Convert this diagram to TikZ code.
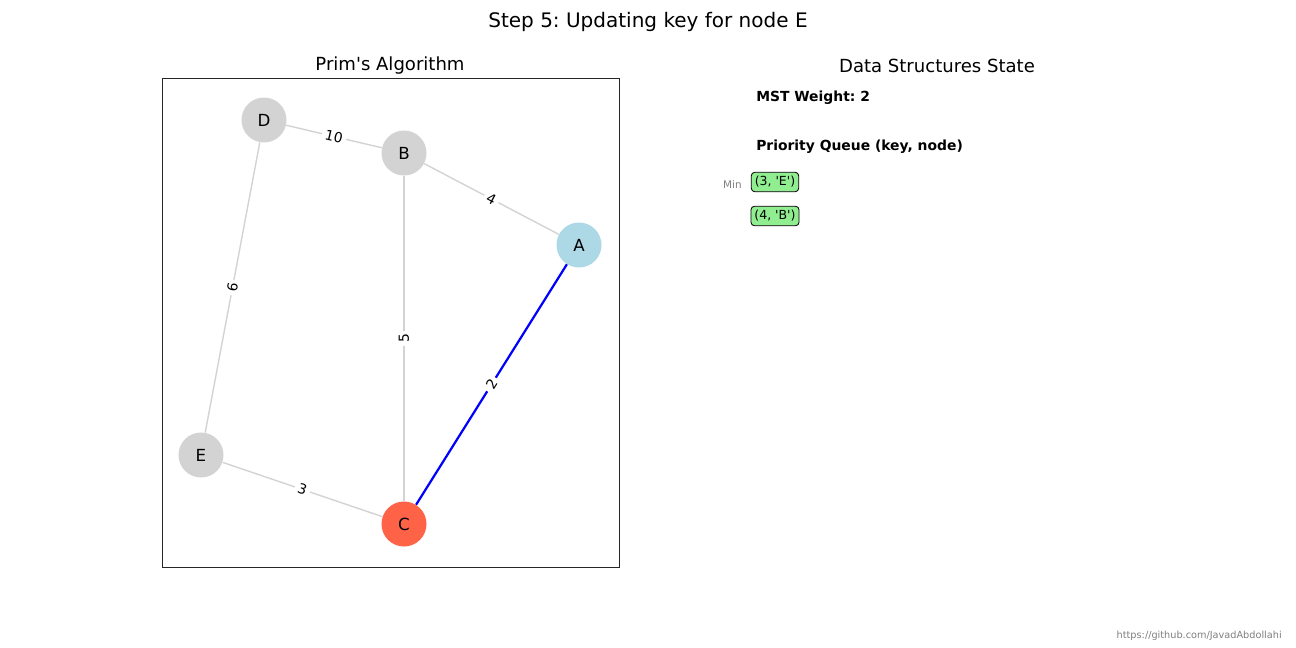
\documentclass[tikz,border=0pt]{standalone}
\usepackage{fontspec}
\setmainfont{DejaVu Sans}
\definecolor{lgray}{HTML}{D3D3D3}
\definecolor{lblue}{HTML}{ADD8E6}
\definecolor{tomato}{HTML}{FF6347}
\definecolor{lgreen}{HTML}{90EE90}
\newcommand{\sq}{\textquotesingle}
\begin{document}
\frenchspacing
\begin{tikzpicture}[x=0.72pt,y=-0.72pt,
  vert/.style={circle,minimum size=32.4pt,inner sep=0pt,font=\fontsize{12}{14}\selectfont},
  edge/.style={draw=lgray,line width=1pt},
  mstedge/.style={draw=blue,line width=1.6pt},
  elabel/.style={midway,sloped,fill=white,inner xsep=2.5pt,inner ysep=2pt,font=\fontsize{10}{12}\selectfont},
  qbox/.style={draw=black,fill=lgreen,rounded corners=2.5pt,inner xsep=2.5pt,inner ysep=3pt,line width=0.6pt,font=\fontsize{9}{11}\selectfont},
  ttl/.style={font=\fontsize{13}{15}\selectfont}]
\useasboundingbox (0,0) rectangle (1296,648);
\fill[white] (0,0) rectangle (1296,648);
\node[font=\fontsize{14.4}{17}\selectfont] (title) at (648,22) {Step 5: Updating key for node E};
\node[ttl] (t1) at (390,66) {Prim\sq s Algorithm};
\node[ttl] (t2) at (937,66) {Data Structures State};
\draw[line width=0.6pt,draw=black!85] (162,78) rectangle (619,567);
\node[vert,fill=lgray] (D) at (264,120) {D};
\node[vert,fill=lgray] (B) at (404,153) {B};
\node[vert,fill=lblue] (A) at (579,245) {A};
\node[vert,fill=lgray] (E) at (201,455) {E};
\node[vert,fill=tomato] (C) at (404,524) {C};
\path[edge] (D) -- node[elabel] {10} (B);
\path[edge] (B) -- node[elabel] {4} (A);
\path[edge] (C) -- node[elabel] {5} (B);
\path[edge] (E) -- node[elabel] {6} (D);
\path[edge] (E) -- node[elabel] {3} (C);
\path[mstedge] (C) -- node[elabel] {2} (A);
\node[anchor=west,font=\bfseries\fontsize{10}{12}\selectfont,inner sep=0pt] (mst) at (756,98) {MST Weight: 2};
\node[anchor=west,font=\bfseries\fontsize{10}{12}\selectfont,inner sep=0pt] (pq) at (756,147) {Priority Queue (key, node)};
\node[anchor=east,text=gray,font=\fontsize{7.5}{9}\selectfont,inner sep=0pt] (min) at (742,184.5) {Min};
\node[qbox] (q1) at (775,182) {(3, \sq E\sq)};
\node[qbox] (q2) at (775,216) {(4, \sq B\sq)};
\node[anchor=east,text=gray,font=\fontsize{7}{8}\selectfont,inner sep=0pt] (cr) at (1282,636) {https://github.com/JavadAbdollahi};
\end{tikzpicture}
\end{document}
